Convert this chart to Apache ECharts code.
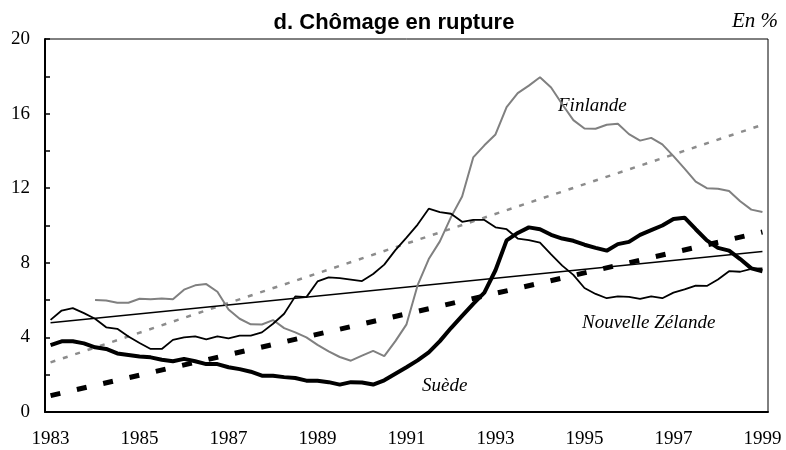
<!DOCTYPE html>
<html>
<head>
<meta charset="utf-8">
<script src="https://cdn.jsdelivr.net/npm/echarts@6/dist/echarts.min.js"></script>
<style>
  html, body { margin: 0; padding: 0; background: #fff; }
  #chart { width: 786px; height: 450px; }
</style>
</head>
<body>
<div id="chart"></div>
<script>
// quarterly categories 1983T1 .. 1999T1
const years = [1983, 1984, 1985, 1986, 1987, 1988, 1989, 1990, 1991, 1992, 1993, 1994, 1995, 1996, 1997, 1998, 1999];
const categories = [];
years.forEach(function (y) {
  for (let q = 1; q <= 4; q++) {
    if (y === 1999 && q > 1) break;
    categories.push(y + "T" + q);
  }
});

const suede = [
  3.58, 3.79, 3.79, 3.68, 3.47, 3.38, 3.14, 3.06, 2.98, 2.93,
  2.80, 2.72, 2.85, 2.72, 2.57, 2.57, 2.40, 2.30, 2.16, 1.95,
  1.94, 1.87, 1.82, 1.68, 1.67, 1.60, 1.47, 1.60, 1.58, 1.47,
  1.70, 2.05, 2.40, 2.77, 3.20, 3.80, 4.50, 5.15, 5.80, 6.40,
  7.60, 9.20, 9.60, 9.90, 9.80, 9.50, 9.30, 9.18, 8.97, 8.80,
  8.65, 9.00, 9.12, 9.50, 9.75, 10.00, 10.35, 10.42, 9.80, 9.20,
  8.80, 8.65, 8.20, 7.70, 7.55
];

const nouvelleZelande = [
  4.94, 5.44, 5.57, 5.30, 5.00, 4.54, 4.46, 4.05, 3.70, 3.38,
  3.38, 3.87, 4.00, 4.06, 3.90, 4.05, 3.95, 4.10, 4.10, 4.27,
  4.73, 5.27, 6.20, 6.16, 7.00, 7.22, 7.18, 7.10, 7.02, 7.40,
  7.90, 8.68, 9.35, 10.05, 10.90, 10.72, 10.63, 10.20, 10.30, 10.30,
  9.90, 9.80, 9.30, 9.22, 9.08, 8.45, 7.85, 7.35, 6.65, 6.33,
  6.10, 6.20, 6.17, 6.06, 6.20, 6.10, 6.40, 6.57, 6.78, 6.76,
  7.10, 7.55, 7.52, 7.68, 7.70
];

const finlande = [
  null, null, null, null, 6.00, 5.98, 5.86, 5.86, 6.07, 6.04,
  6.08, 6.04, 6.56, 6.79, 6.86, 6.45, 5.50, 5.00, 4.70, 4.69,
  4.93, 4.50, 4.27, 4.00, 3.60, 3.25, 2.95, 2.75, 3.02, 3.28,
  3.00, 3.80, 4.70, 6.80, 8.20, 9.15, 10.45, 11.55, 13.65, 14.30,
  14.88, 16.35, 17.10, 17.50, 17.95, 17.40, 16.50, 15.65, 15.20, 15.19,
  15.40, 15.46, 14.90, 14.55, 14.70, 14.35, 13.72, 13.05, 12.35, 12.00,
  11.97, 11.85, 11.30, 10.85, 10.72
];

// linear trends: value at first and last quarter
const trendSuede = [0.88, 9.65];
const trendNZ = [4.78, 8.60];
const trendFinlande = [2.66, 15.40];

const last = categories.length - 1;
function trend(t) {
  return [[categories[0], t[0]], [categories[last], t[1]]];
}

const serif = "'Liberation Serif', 'Times New Roman', serif";

const chart = echarts.init(document.getElementById("chart"));
chart.setOption({
  animation: false,
  grid: {
    left: 45, right: 18, top: 39, bottom: 38,
    show: true, borderColor: "#000", borderWidth: 1
  },
  title: {
    text: "d. Chômage en rupture",
    left: 389, top: 7, textAlign: "center",
    textStyle: { fontFamily: "'Liberation Sans', Arial, sans-serif", fontWeight: "bold", fontSize: 22, color: "#000" }
  },
  graphic: [
    { type: "text", right: 8, top: 11, style: { text: "En %", font: "italic 21px " + serif, fill: "#000" } },
    { type: "text", left: 558, top: 96, style: { text: "Finlande", font: "italic 19px " + serif, fill: "#000" } },
    { type: "text", left: 582, top: 313, style: { text: "Nouvelle Zélande", font: "italic 19px " + serif, fill: "#000" } },
    { type: "text", left: 422, top: 376, style: { text: "Suède", font: "italic 19px " + serif, fill: "#000" } }
  ],
  xAxis: {
    type: "category",
    data: categories,
    boundaryGap: true,
    axisLine: { lineStyle: { color: "#000", width: 2 } },
    axisTick: { inside: true, length: 5, interval: 1, lineStyle: { color: "#000", width: 1.5 } },
    axisLabel: {
      interval: 7, margin: 18,
      formatter: function (v) { return v.slice(0, 4); },
      fontFamily: serif, fontSize: 19, color: "#000"
    },
    splitLine: { show: false }
  },
  yAxis: {
    type: "value",
    min: 0, max: 20, interval: 2,
    axisLine: { show: true, lineStyle: { color: "#000", width: 2 } },
    axisTick: { show: true, inside: true, length: 5, lineStyle: { color: "#000", width: 1.5 } },
    axisLabel: {
      margin: 15,
      formatter: function (v) { return v % 4 === 0 ? v : ""; },
      fontFamily: serif, fontSize: 19, color: "#000"
    },
    splitLine: { show: false }
  },
  series: [
    {
      name: "Tendance Finlande", type: "line", data: trend(trendFinlande), symbol: "none",
      lineStyle: { color: "#8c8c8c", width: 2.5, type: [5, 8] }
    },
    {
      name: "Tendance Nouvelle Zélande", type: "line", data: trend(trendNZ), symbol: "none",
      lineStyle: { color: "#000", width: 1.5 }
    },
    {
      name: "Tendance Suède", type: "line", data: trend(trendSuede), symbol: "none",
      lineStyle: { color: "#000", width: 5, type: [10, 17], cap: "butt" }
    },
    {
      name: "Finlande", type: "line", data: finlande, symbol: "none",
      lineStyle: { color: "#808080", width: 2 }
    },
    {
      name: "Nouvelle Zélande", type: "line", data: nouvelleZelande, symbol: "none",
      lineStyle: { color: "#000", width: 1.8 }
    },
    {
      name: "Suède", type: "line", data: suede, symbol: "none",
      lineStyle: { color: "#000", width: 4 }
    }
  ]
});
</script>
</body>
</html>
